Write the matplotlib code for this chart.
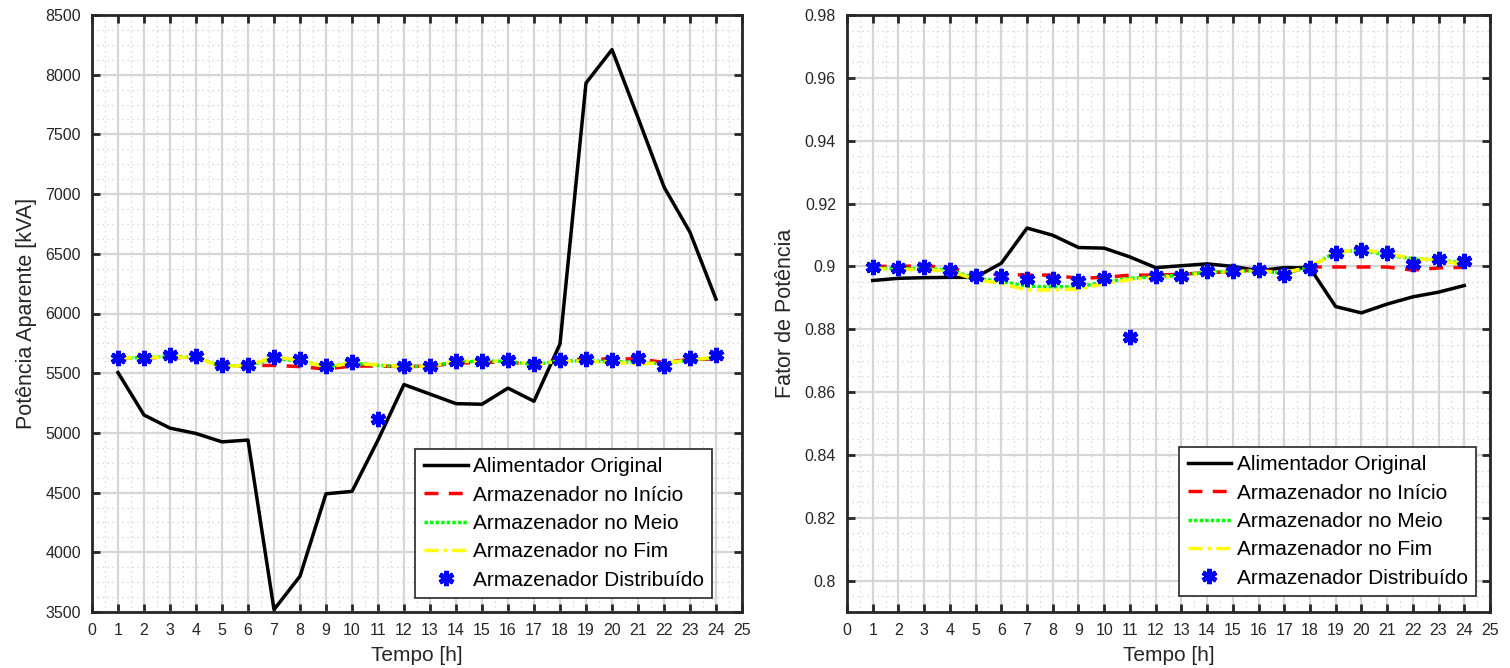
import matplotlib
matplotlib.use("Agg")
import matplotlib.pyplot as plt
from matplotlib.ticker import MultipleLocator

plt.rcParams['font.family'] = ['Liberation Sans', 'DejaVu Sans']

horas = list(range(1, 25))

# Potência aparente [kVA]
s_original = [5505, 5150, 5040, 4995, 4925, 4940, 3520, 3800, 4490, 4510, 4940, 5405,
              5325, 5245, 5240, 5375, 5265, 5745, 7930, 8210, 7640, 7060, 6680, 6120]
s_inicio = [5630, 5630, 5630, 5630, 5555, 5565, 5565, 5555, 5535, 5560, 5560, 5555,
            5560, 5585, 5590, 5595, 5570, 5620, 5615, 5620, 5620, 5590, 5615, 5620]
s_meio = [5630, 5630, 5640, 5630, 5560, 5565, 5620, 5605, 5555, 5585, 5565, 5555,
          5560, 5595, 5600, 5600, 5570, 5605, 5600, 5600, 5590, 5580, 5610, 5630]
s_fim = [5630, 5630, 5635, 5630, 5555, 5565, 5635, 5610, 5550, 5585, 5570, 5555,
         5560, 5600, 5600, 5600, 5575, 5600, 5600, 5590, 5580, 5585, 5610, 5635]
s_distrib = [5630, 5630, 5650, 5640, 5570, 5570, 5635, 5620, 5560, 5590, 5120, 5560,
             5560, 5600, 5600, 5610, 5575, 5610, 5620, 5610, 5630, 5560, 5630, 5650]

# Fator de potência
fp_original = [0.8955, 0.8962, 0.8964, 0.8965, 0.8965, 0.9010, 0.9122, 0.9099, 0.9060, 0.9058, 0.9030, 0.8996,
               0.9002, 0.9008, 0.9000, 0.8986, 0.8996, 0.8995, 0.8872, 0.8852, 0.8880, 0.8903, 0.8918, 0.8939]
fp_inicio = [0.9000, 0.9000, 0.9002, 0.8995, 0.8977, 0.8973, 0.8973, 0.8972, 0.8962, 0.8965, 0.8972, 0.8972,
             0.8975, 0.8980, 0.8983, 0.8990, 0.8978, 0.8998, 0.8998, 0.8998, 0.8998, 0.8988, 0.8995, 0.8997]
fp_meio = [0.8995, 0.8992, 0.8993, 0.8988, 0.8962, 0.8952, 0.8937, 0.8935, 0.8935, 0.8950, 0.8962, 0.8967,
           0.8972, 0.8982, 0.8984, 0.8986, 0.8978, 0.8998, 0.9045, 0.9052, 0.9035, 0.9025, 0.9020, 0.9010]
fp_fim = [0.8993, 0.8990, 0.8990, 0.8985, 0.8958, 0.8945, 0.8925, 0.8925, 0.8928, 0.8945, 0.8958, 0.8965,
          0.8970, 0.8980, 0.8983, 0.8985, 0.8980, 0.8998, 0.9043, 0.9055, 0.9040, 0.9025, 0.9020, 0.9005]
fp_distrib = [0.8998, 0.8995, 0.8998, 0.8990, 0.8969, 0.8970, 0.8961, 0.8961, 0.8952, 0.8964, 0.8774, 0.8970,
              0.8970, 0.8985, 0.8984, 0.8988, 0.8974, 0.8996, 0.9043, 0.9053, 0.9044, 0.9006, 0.9022, 0.9017]

legend_labels = ["Alimentador Original", "Armazenador no Início", "Armazenador no Meio",
                 "Armazenador no Fim", "Armazenador Distribuído"]

fig = plt.figure(figsize=(15.1, 6.68), dpi=100)
ax1 = fig.add_axes([92/1510, 1-612/668, 650/1510, 597/668])
ax2 = fig.add_axes([847/1510, 1-612/668, 643/1510, 597/668])


def draw(ax, orig, ini, meio, fim, dist, leg_anchor):
    ax.plot(horas, orig, color='black', lw=2.5, label=legend_labels[0], zorder=3)
    ax.plot(horas, ini, color='red', lw=2.5, ls=(0, (4, 3)), label=legend_labels[1], zorder=3)
    ax.plot(horas, meio, color='#00ff00', lw=2.5, ls=(0, (1, 0.6)), label=legend_labels[2], zorder=3)
    ax.plot(horas, fim, color='yellow', lw=2.5, ls=(0, (4, 1.5, 1, 1.5)), label=legend_labels[3], zorder=3)
    ax.plot(horas, dist, ls='none', marker=(6, 2, 0), ms=11, mew=3.4, color='blue',
            label=legend_labels[4], zorder=4)
    ax.set_xlim(0, 25)
    ax.xaxis.set_major_locator(MultipleLocator(1))
    ax.xaxis.set_minor_locator(MultipleLocator(0.5))
    ax.grid(which='major', color='#d6d6d6', lw=1.6, ls='-')
    ax.grid(which='minor', color='#cfcfcf', lw=0.9, ls=(0, (1, 3)))
    ax.set_axisbelow(True)
    ax.tick_params(which='major', direction='in', length=6, width=2, top=True, right=True,
                   labelsize=11.5, colors='#262626', pad=8)
    ax.tick_params(which='minor', length=0, top=True, right=True)
    for sp in ax.spines.values():
        sp.set_linewidth(2)
        sp.set_color('#262626')
    ax.set_xlabel("Tempo [h]", fontsize=15, color='#262626', labelpad=6)
    leg = ax.legend(loc='lower right', bbox_to_anchor=leg_anchor, fontsize=15, frameon=True,
                    fancybox=False, edgecolor='#262626', framealpha=1, borderaxespad=0,
                    handlelength=2.1, handletextpad=0.25, labelspacing=0.45, borderpad=0.4)
    leg.get_frame().set_linewidth(1.2)
    leg.set_zorder(10)


draw(ax1, s_original, s_inicio, s_meio, s_fim, s_distrib, (0.954, 0.0235))
ax1.set_ylim(3500, 8500)
ax1.yaxis.set_major_locator(MultipleLocator(500))
ax1.yaxis.set_minor_locator(MultipleLocator(125))
ax1.set_ylabel("Potência Aparente [kVA]", fontsize=15.5, color='#262626', labelpad=6)

draw(ax2, fp_original, fp_inicio, fp_meio, fp_fim, fp_distrib, (0.978, 0.0268))
ax2.set_ylim(0.79, 0.98)
ax2.set_yticks([0.8, 0.82, 0.84, 0.86, 0.88, 0.9, 0.92, 0.94, 0.96, 0.98])
ax2.set_yticklabels(["0.8", "0.82", "0.84", "0.86", "0.88", "0.9", "0.92", "0.94", "0.96", "0.98"])
ax2.yaxis.set_minor_locator(MultipleLocator(0.005))
ax2.set_ylabel("Fator de Potência", fontsize=15.5, color='#262626', labelpad=6)

fig.savefig("out.png", dpi=100)
